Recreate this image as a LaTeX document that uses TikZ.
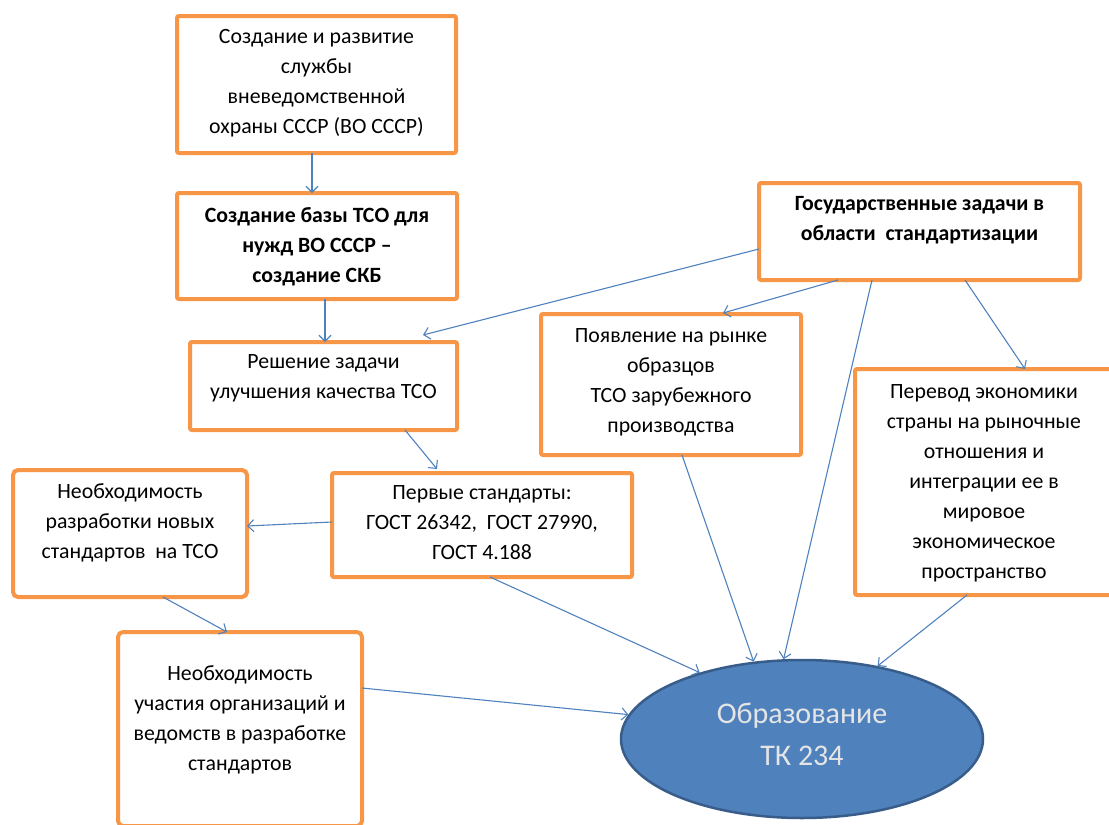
\documentclass[tikz,border=0pt]{standalone}
\usepackage{fontspec}
\setmainfont{Carlito}
\usetikzlibrary{arrows.meta,shapes.geometric}
\definecolor{boxorange}{HTML}{F79646}
\definecolor{linkblue}{HTML}{4F81BD}
\definecolor{ovalfill}{HTML}{4F81BD}
\definecolor{ovaledge}{HTML}{385D8A}
\begin{document}
\begin{tikzpicture}[x=1pt,y=-1pt,
  obox/.style={draw=boxorange, line width=4pt, fill=white, rounded corners=2pt,
               inner sep=0pt, outer sep=0pt},
  btext/.style={align=center, inner sep=0pt, font=\fontsize{21.8}{30}\selectfont},
  link/.style={draw=linkblue, line width=1.1pt,
               -{Straight Barb[length=6pt,width=12pt,line width=1.1pt]}},
  oval/.style={ellipse, draw=ovaledge, line width=2.5pt, fill=ovalfill,
               minimum width=362pt, minimum height=158pt, inner sep=0pt}]
\useasboundingbox (0,0) rectangle (1109,825);

% boxes
\node[obox, minimum width=279pt, minimum height=137pt] (A) at (316.5,84.5) {};
\node[obox, minimum width=280pt, minimum height=106pt] (B) at (317,246) {};
\node[obox, minimum width=267pt, minimum height=88pt]  (C) at (323.5,386) {};
\node[obox, minimum width=321pt, minimum height=97pt]  (D) at (919.5,231.5) {};
\node[obox, minimum width=260pt, minimum height=141pt] (E) at (671,384.5) {};
\node[obox, minimum width=258pt, minimum height=226pt] (F) at (984,482) {};
\node[obox, minimum width=300pt, minimum height=104pt] (G) at (482,525) {};
\node[obox, minimum width=234pt, minimum height=127pt, rounded corners=5pt] (H) at (130,533.5) {};
\node[obox, minimum width=244pt, minimum height=194pt, rounded corners=5pt] (I) at (240,729) {};
\node[oval] (T) at (802,739) {};

% box texts
\node[btext] (At) at (316.5,83) {Создание и развитие\\службы\\вневедомственной\\охраны СССР (ВО СССР)};
\node[btext, font=\fontsize{21.8}{30}\selectfont\bfseries] (Bt) at (317,247) {Создание базы ТСО для\\нужд ВО СССР –\\создание СКБ};
\node[btext] (Ct) at (323.5,378) {Решение задачи\\улучшения качества ТСО};
\node[btext, font=\fontsize{21.8}{30}\selectfont\bfseries] (Dt) at (919.5,220) {Государственные задачи в\\области\ \ стандартизации};
\node[btext] (Et) at (671,382) {Появление на рынке\\образцов\\ТСО зарубежного\\производства};
\node[btext] (Ft) at (984,483) {Перевод экономики\\страны на рыночные\\отношения и\\интеграции ее в\\мировое\\экономическое\\пространство};
\node[btext] (Gt) at (482,523) {Первые стандарты:\\ГОСТ 26342,\ \ ГОСТ 27990,\\ГОСТ 4.188};
\node[btext] (Ht) at (130,523) {Необходимость\\разработки новых\\стандартов\ \ на ТСО};
\node[btext] (It) at (240,720) {Необходимость\\участия организаций и\\ведомств в разработке\\стандартов};
\node[align=center, inner sep=0pt, text=white!90!black,
      font=\fontsize{30}{42}\selectfont] (Tt) at (802,734) {Образование\\ТК 234};

% connectors
\draw[link] ([xshift=-4.5pt]A.south) -- ([xshift=-5pt]B.north);
\draw[link] ([xshift=8pt]B.south) -- ([xshift=1.5pt]C.north);
\draw[link] ([yshift=-17.5pt]D.west) -- ([xshift=99.5pt,yshift=7pt]C.north);
\draw[link] ([xshift=-81.5pt]D.south) -- ([xshift=52pt,yshift=1pt]E.north);
\draw[link] ([xshift=-47.5pt]D.south) -- (T.103);
\draw[link] ([xshift=45.5pt]D.south) -- ([xshift=41pt]F.north);
\draw[link] ([xshift=81.5pt]C.south) -- ([xshift=-45pt,yshift=4pt]G.north);
\draw[link] ([yshift=3pt]G.west) -- ([yshift=7.5pt]H.east);
\draw[link] ([xshift=33pt]H.south) -- ([xshift=-13pt]I.north);
\draw[link] ([xshift=8pt]G.south) -- (T.147);
\draw[link] ([xshift=11pt]E.south) -- (T.122);
\draw[link] ([xshift=-17pt]F.south) -- (T.44);
\draw[link] ([yshift=41pt]I.east) -- (T.172);
\end{tikzpicture}
\end{document}
